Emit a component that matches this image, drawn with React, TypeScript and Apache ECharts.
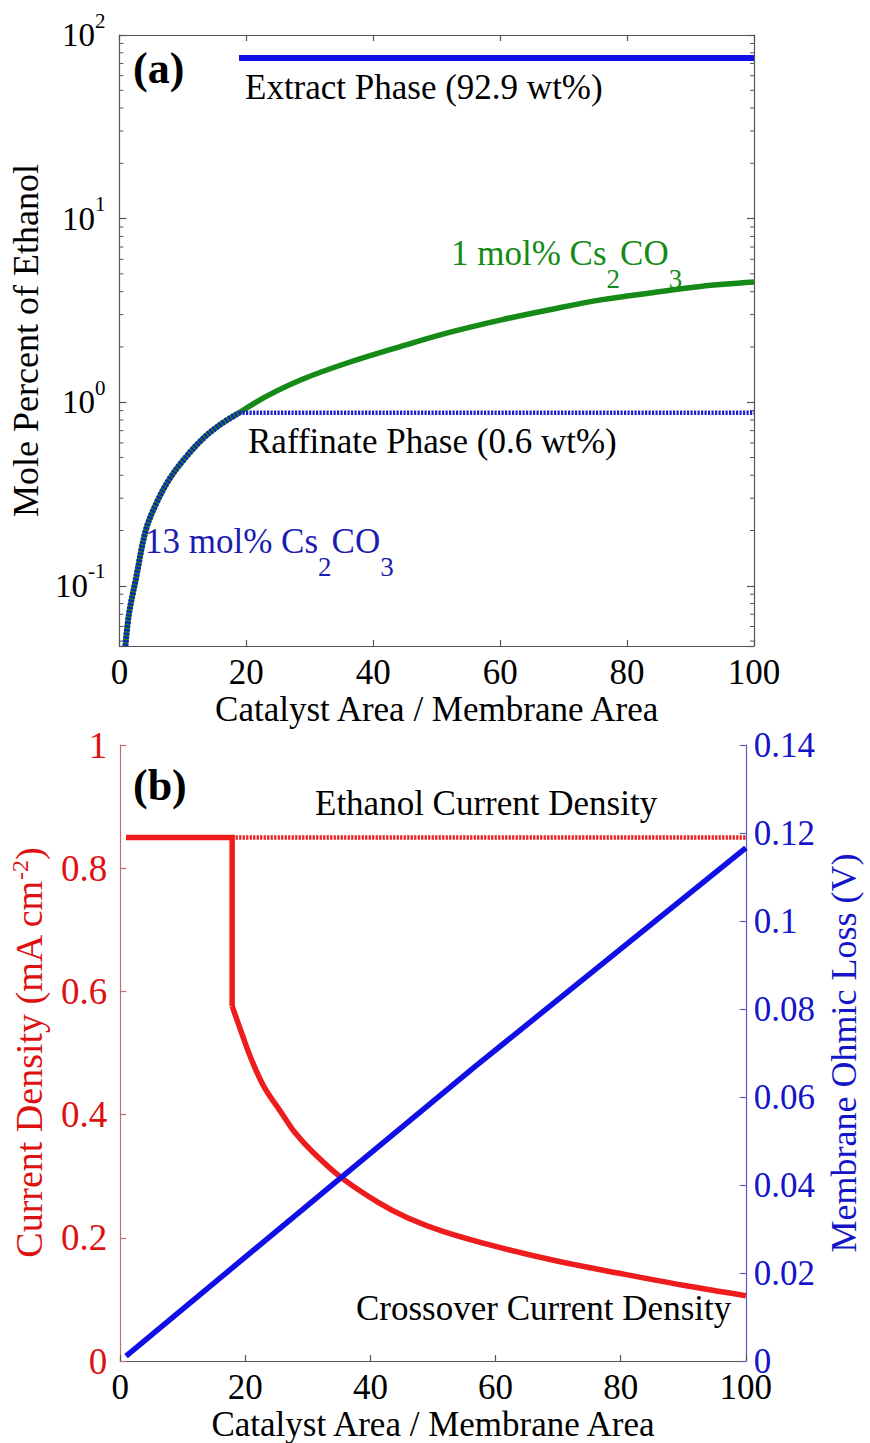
import React, { useEffect, useRef } from "react";
import * as echarts from "echarts";

// ---------- Data ----------
// Panel (a): mole percent of ethanol vs catalyst/membrane area (log y)
const curveAX = [0.94, 1.5, 2.6, 4.2, 6, 7.85, 10, 13.1, 16, 18.85, 23, 28.75, 36, 44.5, 52, 60.2, 68, 75.9, 84, 91.6, 100];
const curveAY = [0.047, 0.07, 0.109, 0.203, 0.29, 0.38, 0.48, 0.63, 0.76, 0.875, 1.07, 1.33, 1.64, 2.02, 2.4, 2.81, 3.2, 3.61, 3.95, 4.27, 4.51];
const overlayCount = 10; // 13 mol% Cs2CO3 part (x <= 18.85)
const raffinateX = [18.85, 100];
const raffinateY = [0.875, 0.875];
const extractX = [18.85, 100];
const extractY = [75, 75];
const minorTicksA = [0.05, 0.06, 0.07, 0.08, 0.09, 0.2, 0.3, 0.4, 0.5, 0.6, 0.7, 0.8, 0.9, 2, 3, 4, 5, 6, 7, 8, 9, 20, 30, 40, 50, 60, 70, 80, 90];

// Panel (b): current density (left) and membrane ohmic loss (right)
const stepX = [0.94, 17.9, 17.9];
const stepY = [0.85, 0.85, 0.576];
const crossX = [17.9, 19.5, 21, 23, 25.7, 28, 30.9, 35.3, 41.3, 46, 51.7, 60, 70, 80, 90, 100];
const crossY = [0.576, 0.53, 0.489, 0.445, 0.404, 0.37, 0.338, 0.298, 0.257, 0.232, 0.21, 0.186, 0.162, 0.142, 0.123, 0.106];
const ethanolX = [17.9, 100];
const ethanolY = [0.85, 0.85];
const ohmicX = [0.94, 35.3, 56.8, 100];
const ohmicY = [0.0011, 0.0417, 0.067, 0.1166];

const xTickInterval = 20;

const FONT = "'Liberation Serif', 'Times New Roman', serif";
const zip = (xs: number[], ys: number[]) => xs.map((x, i) => [x, ys[i]]);

const GRAY = "#555555";
const RED = "#ee1c1c";
const BLUE = "#1010e6";
const GREEN = "#168a16";

export default function App() {
  const ref = useRef<HTMLDivElement>(null);

  useEffect(() => {
    if (!ref.current) return;
    const chart = echarts.init(ref.current, null, { renderer: "svg" });

    const grayLine = { lineStyle: { color: GRAY, width: 1.2 } };
    const baseLabel = { fontSize: 35, fontFamily: FONT, color: "#000" };

    const logFormatter = (v: number) => {
      const l = Math.log10(v);
      const e = Math.round(l);
      if (Math.abs(l - e) > 1e-6) return "";
      return `{b|10}{p|${e}}`;
    };

    const textEl = (x: number, y: number, text: string, fill: string, extra: any = {}) => ({
      type: "text",
      x,
      y,
      silent: true,
      style: {
        text,
        fill,
        fontSize: 35,
        fontFamily: FONT,
        align: "left",
        verticalAlign: "middle",
        textAlign: "left",
        textVerticalAlign: "middle",
        ...extra,
      },
    });

    const subRich = (fill: string) => ({
      b: { fontSize: 35, fontFamily: FONT, fill, lineHeight: 79 },
      s: { fontSize: 27, fontFamily: FONT, fill, verticalAlign: "bottom" },
    });

    const option: any = {
      animation: false,
      backgroundColor: "#ffffff",
      grid: [
        { left: 117, right: 116, top: 35, bottom: 797 },
        { left: 117, right: 115, top: 745, bottom: 81 },
      ],
      xAxis: [
        {
          gridIndex: 0, type: "value", min: 0, max: 100, interval: xTickInterval, position: "bottom",
          axisLine: { show: true, onZero: false, ...grayLine },
          axisTick: { inside: true, length: 6, ...grayLine },
          axisLabel: { ...baseLabel, margin: 9 },
          splitLine: { show: false },
          name: "Catalyst Area / Membrane Area", nameLocation: "middle", nameGap: 46,
          nameTextStyle: { fontSize: 35, fontFamily: FONT, color: "#000" },
        },
        {
          gridIndex: 0, type: "value", min: 0, max: 100, interval: xTickInterval, position: "top",
          axisLine: { show: true, onZero: false, ...grayLine },
          axisTick: { inside: true, length: 6, ...grayLine },
          axisLabel: { show: false },
          splitLine: { show: false },
        },
        {
          gridIndex: 1, type: "value", min: 0, max: 100, interval: xTickInterval, position: "bottom",
          axisLine: { show: true, onZero: false, ...grayLine },
          axisTick: { inside: true, length: 6, ...grayLine },
          axisLabel: { ...baseLabel, margin: 9 },
          splitLine: { show: false },
          name: "Catalyst Area / Membrane Area", nameLocation: "middle", nameGap: 46,
          nameTextStyle: { fontSize: 35, fontFamily: FONT, color: "#000" },
        },
      ],
      yAxis: [
        {
          gridIndex: 0, type: "log", logBase: 10, min: 0.047, max: 100, position: "left",
          axisLine: { show: true, onZero: false, ...grayLine },
          axisTick: { inside: true, length: 7, ...grayLine },
          axisLabel: {
            margin: 14, formatter: logFormatter, color: "#000", fontSize: 33, fontFamily: FONT,
            rich: {
              b: { fontSize: 33, fontFamily: FONT, color: "#000", lineHeight: 50 },
              p: { fontSize: 21, fontFamily: FONT, color: "#000", verticalAlign: "top" },
            },
          },
          splitLine: { show: false },
          minorTick: { show: false },
          name: "Mole Percent of Ethanol", nameLocation: "middle", nameGap: 70, nameRotate: 90,
          nameTextStyle: { fontSize: 36, fontFamily: FONT, color: "#000" },
        },
        {
          gridIndex: 0, type: "log", logBase: 10, min: 0.047, max: 100, position: "right",
          axisLine: { show: true, onZero: false, ...grayLine },
          axisTick: { inside: true, length: 7, ...grayLine },
          axisLabel: { show: false },
          splitLine: { show: false },
        },
        {
          gridIndex: 1, type: "value", min: 0, max: 1, interval: 0.2, position: "left",
          axisLine: { show: true, onZero: false, lineStyle: { color: "#c07070", width: 1.2 } },
          axisTick: { inside: true, length: 6, lineStyle: { color: "#c07070", width: 1.2 } },
          axisLabel: { fontSize: 37, fontFamily: FONT, color: "#dd1111", margin: 13 },
          splitLine: { show: false },
          name: "Current Density (mA cm{p|-2})", nameLocation: "middle", nameGap: 64, nameRotate: 90,
          nameTextStyle: {
            fontSize: 38, fontFamily: FONT, color: "#dd1111", lineHeight: 42,
            rich: { p: { fontSize: 24, fontFamily: FONT, color: "#dd1111", verticalAlign: "top" } },
          },
        },
        {
          gridIndex: 1, type: "value", min: 0, max: 0.14, interval: 0.02, position: "right",
          axisLine: { show: true, onZero: false, lineStyle: { color: "#5a5ac0", width: 1.2 } },
          axisTick: { inside: true, length: 6, lineStyle: { color: "#5a5ac0", width: 1.2 } },
          axisLabel: { fontSize: 35, fontFamily: FONT, color: "#1515c8", margin: 8 },
          splitLine: { show: false },
          name: "Membrane Ohmic Loss (V)", nameLocation: "middle", nameGap: 80, nameRotate: 90,
          nameTextStyle: { fontSize: 36, fontFamily: FONT, color: "#1515c8" },
        },
      ],
      series: [
        // minor ticks of the log axis (left and right)
        {
          type: "custom", xAxisIndex: 0, yAxisIndex: 0, silent: true, z: 1,
          data: minorTicksA.map((v) => [0, v]),
          renderItem: (params: any, api: any) => {
            const v = api.value(1);
            const pL = api.coord([0, v]);
            const pR = api.coord([100, v]);
            const st = { stroke: GRAY, lineWidth: 1 };
            return {
              type: "group",
              children: [
                { type: "line", shape: { x1: pL[0], y1: pL[1], x2: pL[0] + 4, y2: pL[1] }, style: st },
                { type: "line", shape: { x1: pR[0], y1: pR[1], x2: pR[0] - 4, y2: pR[1] }, style: st },
              ],
            };
          },
        },
        {
          name: "1 mol% Cs2CO3", type: "line", xAxisIndex: 0, yAxisIndex: 0,
          data: zip(curveAX, curveAY), symbol: "none", smooth: 0.35, z: 2,
          lineStyle: { color: GREEN, width: 5.5 },
        },
        {
          name: "13 mol% Cs2CO3", type: "line", xAxisIndex: 0, yAxisIndex: 0,
          data: zip(curveAX.slice(0, overlayCount), curveAY.slice(0, overlayCount)),
          symbol: "none", smooth: 0.35, z: 3,
          lineStyle: { color: "#1626b0", width: 6, type: [2.4, 1.3] },
        },
        {
          name: "Raffinate Phase", type: "line", xAxisIndex: 0, yAxisIndex: 0,
          data: zip(raffinateX, raffinateY), symbol: "none", z: 3,
          lineStyle: { color: "#2020cc", width: 4.5, type: [2.2, 1.3] },
        },
        {
          name: "Extract Phase", type: "line", xAxisIndex: 0, yAxisIndex: 0,
          data: zip(extractX, extractY), symbol: "none", z: 3,
          lineStyle: { color: BLUE, width: 6 },
        },
        {
          name: "Ethanol Current Density (step)", type: "line", xAxisIndex: 2, yAxisIndex: 2,
          data: zip(stepX, stepY), symbol: "none", z: 2,
          lineStyle: { color: RED, width: 5.5, join: "miter" },
        },
        {
          name: "Crossover Current Density", type: "line", xAxisIndex: 2, yAxisIndex: 2,
          data: zip(crossX, crossY), symbol: "none", smooth: 0.35, z: 2,
          lineStyle: { color: RED, width: 5.5 },
        },
        {
          name: "Ethanol Current Density", type: "line", xAxisIndex: 2, yAxisIndex: 2,
          data: zip(ethanolX, ethanolY), symbol: "none", z: 2,
          lineStyle: { color: RED, width: 4.5, type: [2.2, 1.3] },
        },
        {
          name: "Membrane Ohmic Loss", type: "line", xAxisIndex: 2, yAxisIndex: 3,
          data: zip(ohmicX, ohmicY), symbol: "none", z: 3,
          lineStyle: { color: BLUE, width: 5.5 },
        },
      ],
      graphic: [
        textEl(133, 68, "(a)", "#000", { fontSize: 44, fontWeight: "bold" }),
        textEl(245, 87, "Extract Phase (92.9 wt%)", "#000"),
        textEl(451, 253, "{b|1 mol% Cs}{s|2}{b|CO}{s|3}", GREEN, { rich: subRich(GREEN) }),
        textEl(248, 441, "Raffinate Phase (0.6 wt%)", "#000"),
        textEl(145, 541, "{b|13 mol% Cs}{s|2}{b|CO}{s|3}", "#1c1cb0", { rich: subRich("#1c1cb0") }),
        textEl(133, 785, "(b)", "#000", { fontSize: 44, fontWeight: "bold" }),
        textEl(315, 803, "Ethanol Current Density", "#000"),
        textEl(356, 1308, "Crossover Current Density", "#000"),
      ],
    };

    chart.setOption(option);
    return () => chart.dispose();
  }, []);

  return (
    <div
      ref={ref}
      style={{ position: "absolute", left: 0, top: 0, width: 870, height: 1443, background: "#fff" }}
    />
  );
}
